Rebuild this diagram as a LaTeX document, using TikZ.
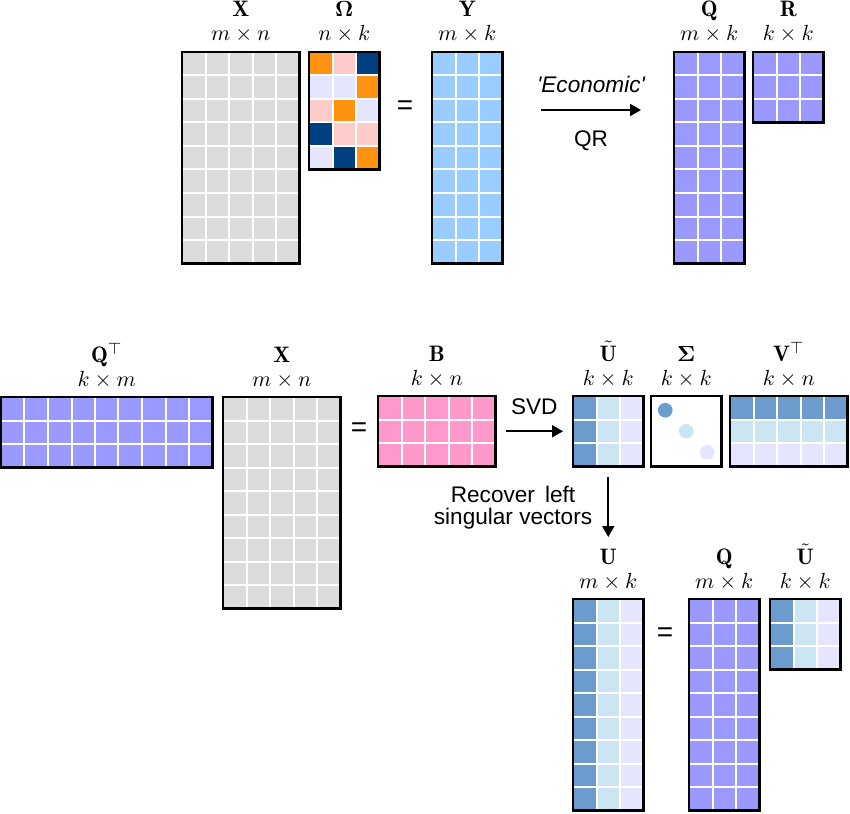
\documentclass[tikz,border=0pt]{standalone}
\usepackage{amsmath}
\usepackage{fontspec}
\newfontfamily\arial{Liberation Sans}
\usepackage{tikz}
\usetikzlibrary{positioning, calc, arrows.meta}

\definecolor{cinza}{RGB}{220,220,220}
\definecolor{celesteY}{RGB}{153,204,255}
\definecolor{roxo}{RGB}{153,153,255}
\definecolor{rosaB}{RGB}{255,153,204}
\definecolor{laranja}{RGB}{255,146,16}
\definecolor{azulesc}{RGB}{0,64,128}
\definecolor{rosa}{RGB}{255,204,204}
\definecolor{lav}{RGB}{229,229,255}
\definecolor{azulm}{RGB}{108,155,206}
\definecolor{celeste}{RGB}{204,229,242}

% lado de uma celula
\newcommand{\cel}{11.75pt}

% grade branca + borda preta sobre uma matriz (no, colunas, linhas)
\newcommand{\grade}[3]{%
  \foreach \i in {1,...,#2}
    \draw[linha] ($(#1.north west)!\i/#2!(#1.north east)$) -- ($(#1.south west)!\i/#2!(#1.south east)$);
  \foreach \i in {1,...,#3}
    \draw[linha] ($(#1.north west)!\i/#3!(#1.south west)$) -- ($(#1.north east)!\i/#3!(#1.south east)$);
  \draw[borda] (#1.north west) rectangle (#1.south east);
}

% nome e dimensao acima da matriz
\newcommand{\rotulos}[3]{%
  \node[dim, anchor=base] (#1dim) at ([yshift=5.5pt]#1.north) {$#3$};
  \node[nome, anchor=base] (#1nome) at ([yshift=17.5pt]#1.north) {$#2$};
}

\begin{document}
\begin{tikzpicture}[
        x=0.5pt, y=-0.5pt, % 1 unidade = 1 pixel da figura
        matriz/.style={rectangle, inner sep=0pt, outer sep=0pt, anchor=north west},
        tam/.style 2 args={minimum width=#1*\cel, minimum height=#2*\cel},
        linha/.style={white, line width=1pt},
        borda/.style={black, line width=1.1pt},
        dim/.style={font=\fontsize{11.2}{13}\selectfont, inner sep=0pt},
        nome/.style={font=\fontsize{11.2}{13}\selectfont, inner sep=0pt},
        texto/.style={font=\arial\fontsize{11.3}{11}\selectfont},
        igual/.style={font=\arial\fontsize{14}{14}\selectfont},
        seta/.style={->, >={Triangle[length=5.5pt, width=6pt]}, line width=1pt}
        ]
        \useasboundingbox (0,0) rectangle (850,813);

        % Linha de cima: X Omega = Y -> Q R
        \node[matriz, tam={5}{9}, fill=cinza] (xa) at (182,52) {};
        \node[matriz, tam={3}{5}, fill=lav] (om) at (309,52) {};
        \node[matriz, tam={3}{9}, fill=celesteY] (ya) at (432,52) {};
        \node[matriz, tam={3}{9}, fill=roxo] (qa) at (674,52) {};
        \node[matriz, tam={3}{3}, fill=roxo] (ra) at (753,52) {};

        \foreach \col/\lin/\cor in {1/1/laranja, 2/1/rosa, 3/1/azulesc,
                                    3/2/laranja,
                                    1/3/rosa, 2/3/laranja,
                                    1/4/azulesc, 2/4/rosa, 3/4/rosa,
                                    2/5/azulesc, 3/5/laranja}
            \fill[\cor] ($(om.north west)+({(\col-1)*\cel},{-(\lin-1)*\cel})$) rectangle +(\cel,-\cel);

        \grade{xa}{5}{9}
        \grade{om}{3}{5}
        \grade{ya}{3}{9}
        \grade{qa}{3}{9}
        \grade{ra}{3}{3}

        \rotulos{xa}{\mathbf{X}}{m\times n}
        \rotulos{om}{\boldsymbol{\Omega}}{n\times k}
        \rotulos{ya}{\mathbf{Y}}{m\times k}
        \rotulos{qa}{\mathbf{Q}}{m\times k}
        \rotulos{ra}{\mathbf{R}}{k\times k}

        \node[igual] (eq1) at (405,108) {=};
        \coordinate (qr0) at (541,110);
        \coordinate (qr1) at (641,110);
        \draw[seta] (qr0) -- (qr1)
            node[midway, above=5pt, texto] {\itshape\textquotesingle Economic\textquotesingle}
            node[midway, below=6.5pt, texto] {QR};

        % Linha de baixo: Q^T X = B -> U S V^T ; U = Q U
        \node[matriz, tam={9}{3}, fill=roxo] (qt) at (1,397) {};
        \node[matriz, tam={5}{9}, fill=cinza] (xb) at (223,397) {};
        \node[matriz, tam={5}{3}, fill=rosaB] (bb) at (378,396) {};
        \node[matriz, tam={3}{3}, fill=lav] (ut) at (573,396) {};
        \node[matriz, tam={3}{3}, fill=white] (sg) at (651,396) {};
        \node[matriz, tam={5}{3}, fill=lav] (vt) at (730,396) {};
        \node[matriz, tam={3}{9}, fill=lav] (ub) at (573,599) {};
        \node[matriz, tam={3}{9}, fill=roxo] (qb) at (689,599) {};
        \node[matriz, tam={3}{3}, fill=lav] (ut2) at (770,599) {};

        % colunas dos vetores singulares
        \foreach \n in {ut, ub, ut2} {
            \fill[azulm] (\n.north west) rectangle ($(\n.south west)!1/3!(\n.south east)$);
            \fill[celeste] ($(\n.north west)!1/3!(\n.north east)$) rectangle ($(\n.south west)!2/3!(\n.south east)$);
        }
        \fill[azulm] (vt.north west) rectangle ($(vt.north east)!1/3!(vt.south east)$);
        \fill[celeste] ($(vt.north west)!1/3!(vt.south west)$) rectangle ($(vt.north east)!2/3!(vt.south east)$);

        % valores singulares
        \fill[azulm] ($(sg.center)+(-21,-21)$) circle (3.65pt);
        \fill[celeste] (sg.center) circle (3.65pt);
        \fill[lav] ($(sg.center)+(21,21)$) circle (3.65pt);
        \draw[borda] (sg.north west) rectangle (sg.south east);

        \grade{qt}{9}{3}
        \grade{xb}{5}{9}
        \grade{bb}{5}{3}
        \grade{ut}{3}{3}
        \grade{vt}{5}{3}
        \grade{ub}{3}{9}
        \grade{qb}{3}{9}
        \grade{ut2}{3}{3}

        \rotulos{qt}{\mathbf{Q}^{\top}}{k\times m}
        \rotulos{xb}{\mathbf{X}}{m\times n}
        \rotulos{bb}{\mathbf{B}}{k\times n}
        \rotulos{ut}{\tilde{\mathbf{U}}}{k\times k}
        \rotulos{sg}{\boldsymbol{\Sigma}}{k\times k}
        \rotulos{vt}{\mathbf{V}^{\top}}{k\times n}
        \rotulos{ub}{\mathbf{U}}{m\times k}
        \rotulos{qb}{\mathbf{Q}}{m\times k}
        \rotulos{ut2}{\tilde{\mathbf{U}}}{k\times k}

        \node[igual] (eq2) at (359,430) {=};
        \node[igual] (eq3) at (665,635) {=};

        \draw[seta, shorten <=5pt, shorten >=5pt] (bb) -- (ut)
            node[midway, above=4.5pt, texto] {SVD};

        \coordinate (rec) at (608.25,537);
        \draw[seta, shorten <=5pt] (ut.south) -- (rec);
        \node[texto, align=center] (recup) at (513,508) {Recover\, left\\singular vectors};

    \end{tikzpicture}
\end{document}
